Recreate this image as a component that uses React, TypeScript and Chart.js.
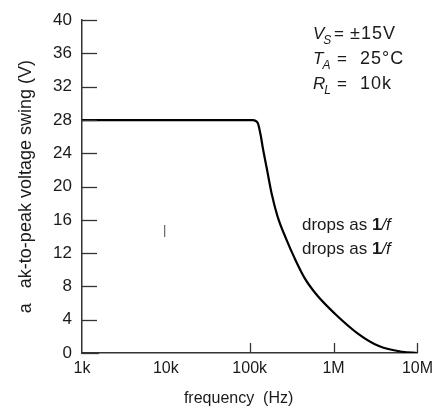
import React, { useEffect, useRef } from "react";
import { Chart, registerables } from "chart.js";

Chart.register(...registerables);

const frequencies = [1000, 10000, 100000, 108600, 124000, 135000, 143000, 159000, 183000, 215000, 275000, 343000, 452000, 628000, 1030000, 1930000, 3530000, 6600000, 10000000];
const swingVolts = [28, 28, 28, 28, 27.7, 26.2, 24.7, 22.3, 19.1, 16.4, 13.6, 11.4, 9.0, 7.0, 4.75, 2.37, 0.8, 0.15, 0];
const xTickValues = [1000, 10000, 100000, 1000000, 10000000];
const xTickLabels = ["1k", "10k", "100k", "1M", "10M"];
const yTickValues = [0, 4, 8, 12, 16, 20, 24, 28, 32, 36, 40];
const xInnerTicks = [100000, 1000000, 10000000];
const noteLine = "drops as ";

const FONT = "'Liberation Sans', Arial, Helvetica, sans-serif";
const INK = "#1a1a1a";

const decorPlugin = {
  id: "decor",
  afterDraw(chart: any) {
    const { ctx, scales } = chart;
    const xs = scales.x;
    const ys = scales.y;
    ctx.save();
    ctx.strokeStyle = "#333";
    ctx.lineWidth = 1.3;
    yTickValues.forEach((v) => {
      const py = Math.round(ys.getPixelForValue(v)) + 0.5;
      ctx.beginPath();
      ctx.moveTo(xs.left, py);
      ctx.lineTo(xs.left + (v === 0 ? 17 : 15), py);
      ctx.stroke();
    });
    xInnerTicks.forEach((v) => {
      const px = Math.round(xs.getPixelForValue(v)) + 0.5;
      ctx.beginPath();
      ctx.moveTo(px, ys.bottom);
      ctx.lineTo(px, ys.bottom - 10);
      ctx.stroke();
    });

    ctx.fillStyle = INK;
    ctx.textBaseline = "alphabetic";
    ctx.textAlign = "left";
    const drawCond = (y: number, main: string, sub: string, eqX: number, value: string, valX: number) => {
      ctx.font = `italic 17px ${FONT}`;
      ctx.fillText(main, 313, y);
      const w = ctx.measureText(main).width;
      ctx.font = `italic 12px ${FONT}`;
      ctx.fillText(sub, 313 + w - 1, y + 5);
      ctx.font = `17px ${FONT}`;
      ctx.fillText("=", eqX, y);
      ctx.font = `18px ${FONT}`;
      (ctx as any).letterSpacing = "1px";
      ctx.fillText(value, valX, y);
      (ctx as any).letterSpacing = "0px";
    };
    drawCond(39, "V", "S", 334, "±15V", 350);
    drawCond(64, "T", "A", 337, "25°C", 360);
    drawCond(89, "R", "L", 337, "10k", 360);

    const drawNote = (x: number, y: number) => {
      ctx.font = `17px ${FONT}`;
      ctx.fillText(noteLine, x, y);
      let w = ctx.measureText(noteLine).width;
      ctx.font = `bold 17px ${FONT}`;
      ctx.fillText("1", x + w, y);
      w += ctx.measureText("1").width;
      ctx.font = `italic 17px ${FONT}`;
      ctx.fillText("/f", x + w, y);
    };
    drawNote(302, 230);
    drawNote(302, 254);

    ctx.font = `13px ${FONT}`;
    ctx.fillStyle = "#555";
    ctx.fillText("|", 163, 234);
    ctx.restore();
  },
};

export default function App() {
  const ref = useRef<HTMLCanvasElement | null>(null);
  useEffect(() => {
    if (!ref.current) return;
    const chart = new Chart(ref.current, {
      type: "line",
      data: {
        datasets: [
          {
            data: frequencies.map((f, i) => ({ x: f, y: swingVolts[i] })),
            borderColor: "#000",
            borderWidth: 2.2,
            pointRadius: 0,
            cubicInterpolationMode: "monotone",
            fill: false,
          },
        ],
      },
      options: {
        responsive: false,
        animation: false,
        layout: { padding: { left: 15, right: 21, top: 16, bottom: 0 } },
        plugins: { legend: { display: false }, tooltip: { enabled: false } },
        scales: {
          x: {
            type: "logarithmic",
            min: 1000,
            max: 10000000,
            afterBuildTicks: (scale: any) => {
              scale.ticks = xTickValues.map((v) => ({ value: v }));
            },
            afterFit: (scale: any) => {
              scale.height = 55;
            },
            grid: { display: false, drawTicks: false },
            border: { display: true, color: "#333", width: 1.5 },
            ticks: {
              autoSkip: false,
              maxRotation: 0,
              padding: 6,
              color: INK,
              font: { family: FONT, size: 16 },
              callback: (v: any) => {
                const i = xTickValues.indexOf(Number(v));
                return i >= 0 ? xTickLabels[i] : "";
              },
            },
            title: {
              display: true,
              text: "frequency  (Hz)     ",
              color: INK,
              font: { family: FONT, size: 16 },
              padding: { top: 0, bottom: 0 },
            },
          },
          y: {
            min: 0,
            max: 40,
            afterBuildTicks: (scale: any) => {
              scale.ticks = yTickValues.map((v) => ({ value: v }));
            },
            afterFit: (scale: any) => {
              scale.width = 67;
            },
            grid: { display: false, drawTicks: false },
            border: { display: true, color: "#333", width: 1.5 },
            ticks: {
              padding: 10,
              color: INK,
              font: { family: FONT, size: 17 },
            },
            title: {
              display: true,
              text: "a   ak-to-peak voltage swing (V)",
              color: INK,
              font: { family: FONT, size: 18 },
              padding: { top: 0, bottom: 0 },
            },
          },
        },
      },
      plugins: [decorPlugin],
    } as any);
    return () => chart.destroy();
  }, []);
  return (
    <div style={{ position: "fixed", left: 0, top: 0, width: 439, height: 408, background: "#fff" }}>
      <canvas ref={ref} width={439} height={408} style={{ display: "block" }} />
    </div>
  );
}
